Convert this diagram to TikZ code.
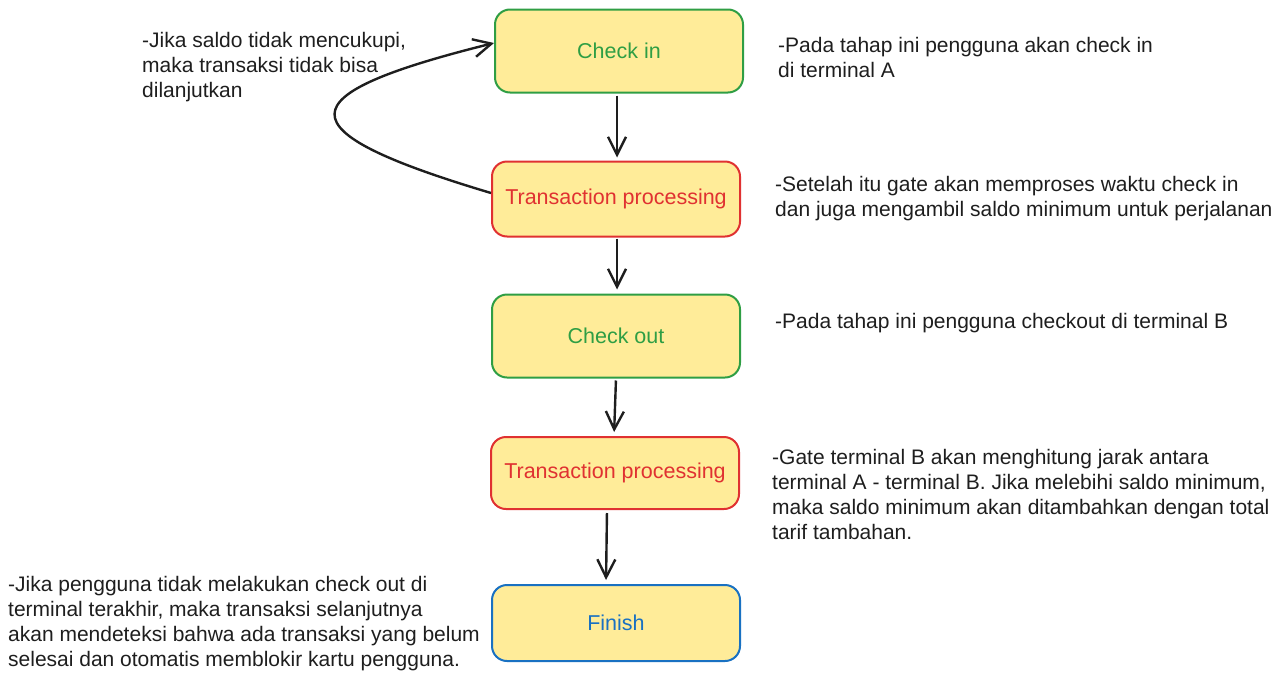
\documentclass[tikz,border=0pt]{standalone}
\usepackage{fontspec}
\setmainfont{Liberation Sans}
\usepackage{xcolor}
\usepackage{tikz}
\usetikzlibrary{arrows.meta}
\definecolor{boxfill}{HTML}{FFEC99}
\definecolor{boxgreen}{HTML}{2F9E44}
\definecolor{boxred}{HTML}{E03131}
\definecolor{boxblue}{HTML}{1971C2}
\definecolor{ink}{HTML}{1E1E1E}
\tikzset{box/.style={draw,fill=boxfill,line width=2pt,rounded corners=15pt,
           minimum width=248pt,font=\fontsize{21.5}{25}\selectfont},
         note/.style={anchor=north west,align=left,inner sep=0pt,text=ink,
           font=\fontsize{21}{25}\selectfont},
         flow/.style={draw=ink,line width=2.4pt,
           -{Straight Barb[length=18pt,width=18pt,line width=2.4pt]}}}
\begin{document}
\begin{tikzpicture}[x=1pt,y=-1pt]
\useasboundingbox (0,0) rectangle (1277,683);
\node[box,draw=boxgreen,text=boxgreen,minimum height=83pt] (checkin) at (619,51) {Check in};
\node[box,draw=boxred,text=boxred,minimum height=75pt] (tpone) at (616,199) {Transaction processing};
\node[box,draw=boxgreen,text=boxgreen,minimum height=83pt] (checkout) at (616,336) {Check out};
\node[box,draw=boxred,text=boxred,minimum height=72pt] (tptwo) at (615,473) {Transaction processing};
\node[box,draw=boxblue,text=boxblue,minimum height=76pt] (finish) at (616,623) {Finish};
% arrows between the steps
\draw[flow,shorten <=2pt,shorten >=3pt] ([xshift=-2pt]checkin.south) -- ([xshift=1pt]tpone.north);
\draw[flow,shorten <=1pt,shorten >=4pt] ([xshift=1pt]tpone.south) -- ([xshift=1pt]tpone.south |- checkout.north);
\draw[flow,shorten <=2pt,shorten >=4pt] (checkout.south) -- ([xshift=-1pt]tptwo.north);
\draw[flow,shorten <=3pt,shorten >=4pt] ([xshift=-8pt]tptwo.south) -- ([xshift=-10pt]finish.north);
\draw[flow] ([yshift=6pt]tpone.west) .. controls (280,130) and (285,95) .. ([yshift=8pt]checkin.west);
% notes
\node[note] (notefail) at (142,32) {-Jika saldo tidak mencukupi,\\maka transaksi tidak bisa\\dilanjutkan};
\node[note] (notecheckin) at (778,37) {-Pada tahap ini pengguna akan check in\\di terminal A};
\node[note] (notetpone) at (775,176) {-Setelah itu gate akan memproses waktu check in\\dan juga mengambil saldo minimum untuk perjalanan};
\node[note] (notecheckout) at (775,313) {-Pada tahap ini pengguna checkout di terminal B};
\node[note] (notetptwo) at (772,449) {-Gate terminal B akan menghitung jarak antara\\terminal A - terminal B. Jika melebihi saldo minimum,\\maka saldo minimum akan ditambahkan dengan total\\tarif tambahan.};
\node[note] (notefinish) at (8,576) {-Jika pengguna tidak melakukan check out di\\terminal terakhir, maka transaksi selanjutnya\\akan mendeteksi bahwa ada transaksi yang belum\\selesai dan otomatis memblokir kartu pengguna.};
\end{tikzpicture}
\end{document}
